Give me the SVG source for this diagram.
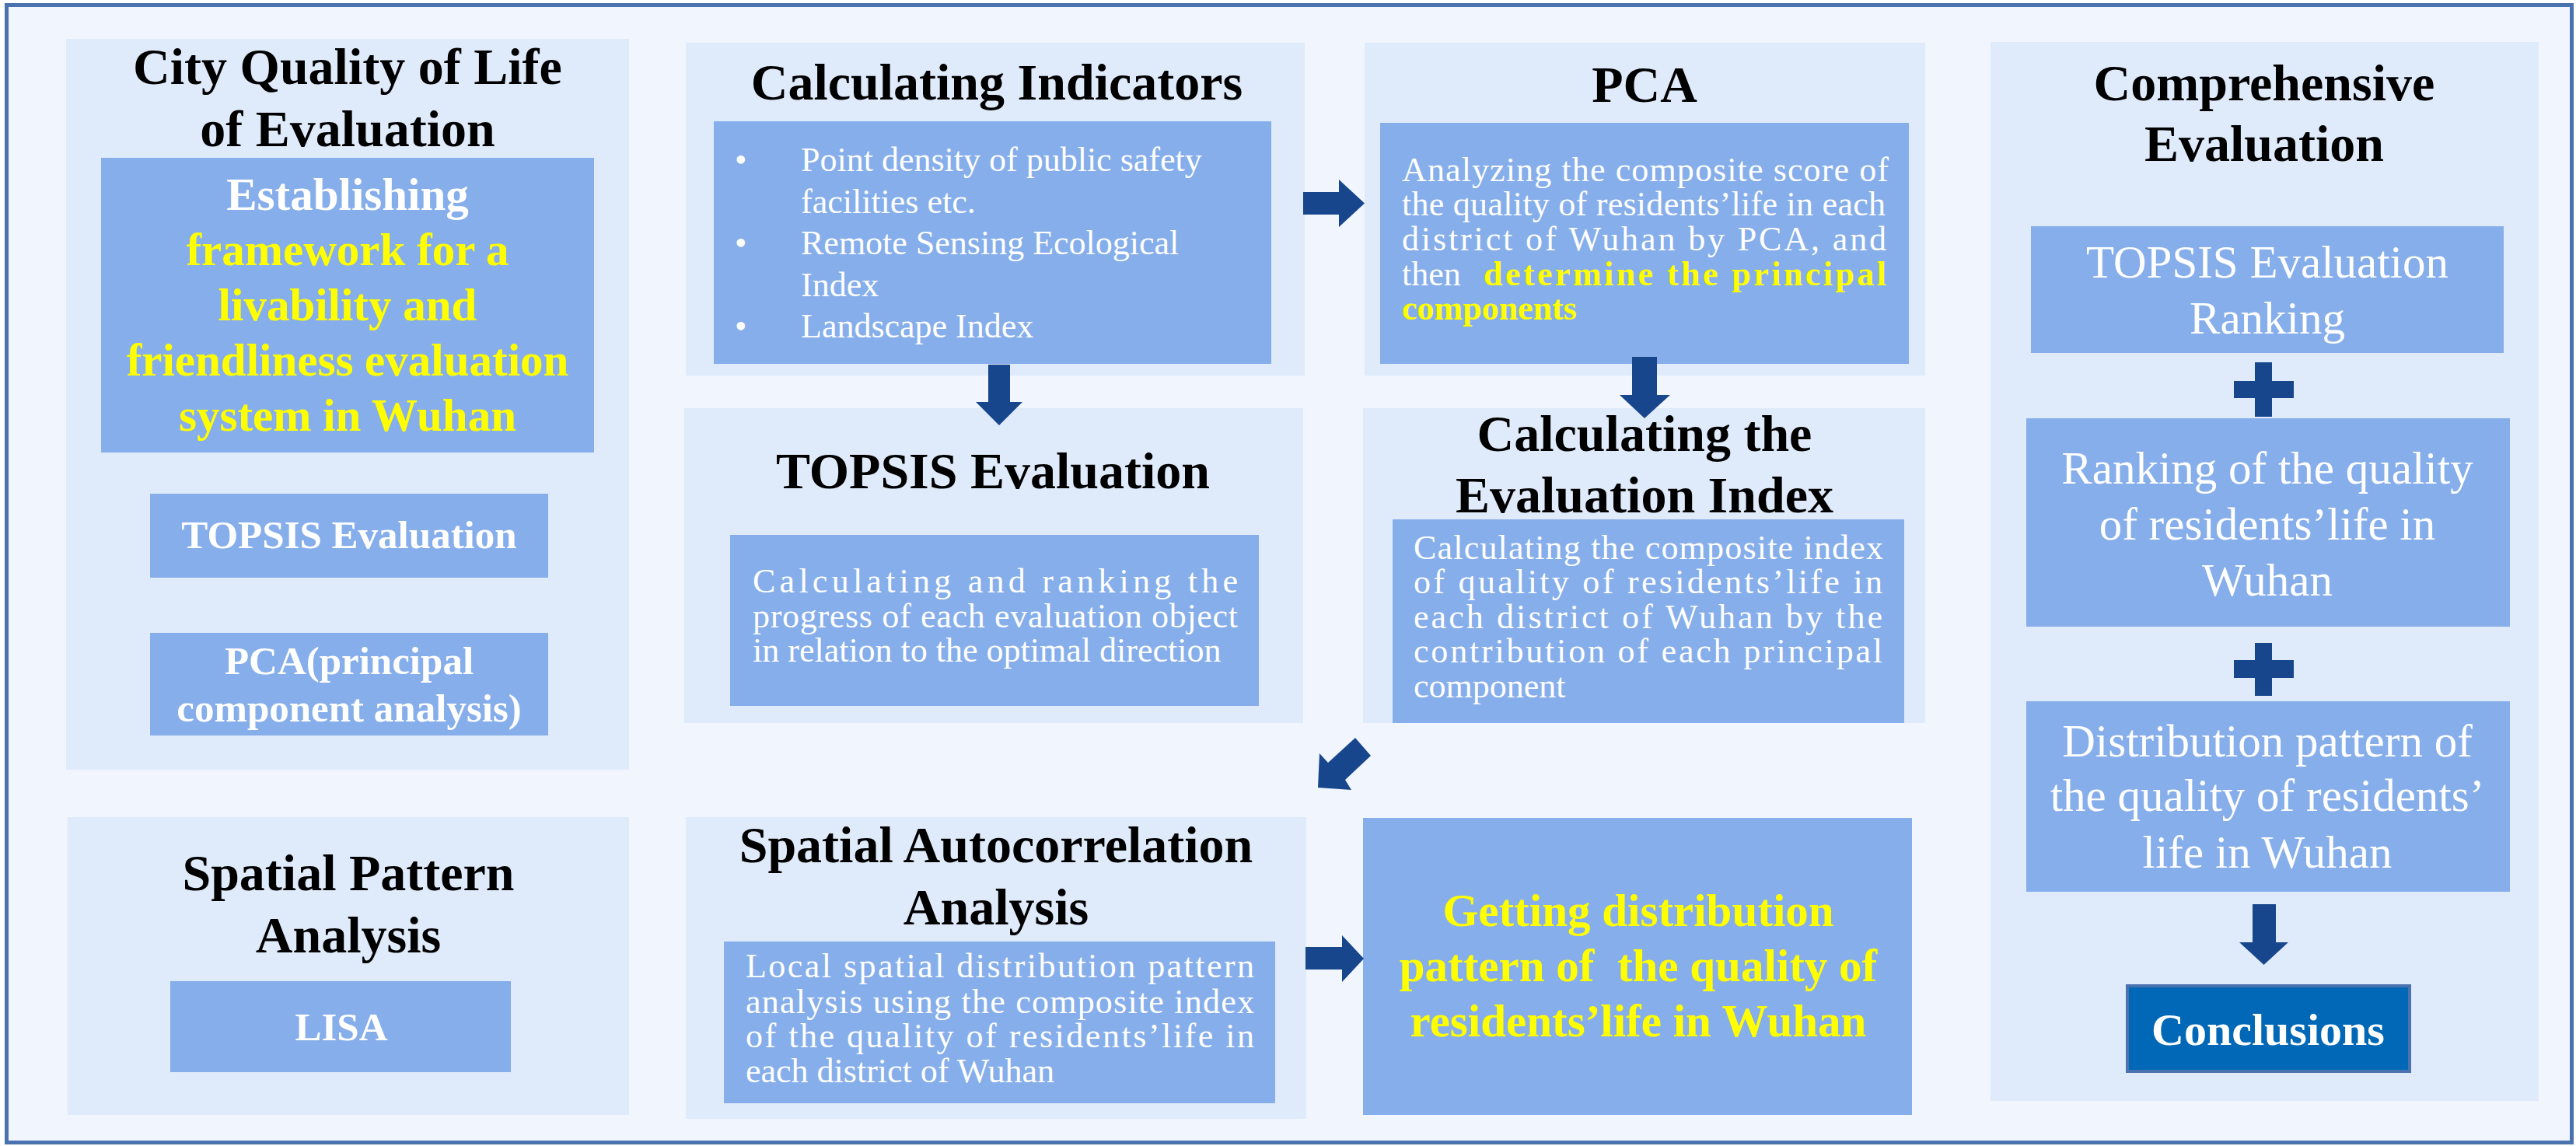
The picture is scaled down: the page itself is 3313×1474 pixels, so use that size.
<svg xmlns="http://www.w3.org/2000/svg" width="3313" height="1474" viewBox="0 0 3313 1474">
<style>
text{font-family:"Liberation Serif","Times New Roman",serif;}
.panel{fill:#dfeafa;}
.box{fill:#86aeea;}
.h{font-size:66px;font-weight:bold;fill:#000;text-anchor:middle;}
.bw{font-weight:bold;fill:#fff;text-anchor:middle;}
.t{font-size:44px;fill:#fff;}
.by{font-weight:bold;fill:#ffff00;}
.r{font-size:59px;fill:#fff;text-anchor:middle;}
.arr{fill:#17468d;}
</style>
<rect x="8.5" y="6.5" width="3299" height="1463" fill="#f0f5fe" stroke="#4a72ae" stroke-width="5"/>

<g id="city-quality">
<rect class="panel" x="85" y="50" width="724" height="940"/>
<text class="h" x="447" y="108">City Quality of Life</text>
<text class="h" x="447" y="188">of Evaluation</text>
<rect class="box" x="130" y="203" width="634" height="379"/>
<text class="bw" x="447" y="270" font-size="59">Establishing</text>
<text class="by" x="447" y="341" font-size="59" text-anchor="middle">framework for a</text>
<text class="by" x="447" y="412" font-size="59" text-anchor="middle">livability and</text>
<text class="by" x="447" y="483" font-size="59" text-anchor="middle">friendliness evaluation</text>
<text class="by" x="447" y="554" font-size="59" text-anchor="middle">system in Wuhan</text>
<rect class="box" x="193" y="635" width="512" height="108"/>
<text class="bw" x="449" y="705" font-size="51">TOPSIS Evaluation</text>
<rect class="box" x="193" y="814" width="512" height="132"/>
<text class="bw" x="449" y="867" font-size="51">PCA(principal</text>
<text class="bw" x="449" y="928" font-size="51">component analysis)</text>
</g>

<g id="spatial-pattern">
<rect class="panel" x="87" y="1051" width="722" height="383"/>
<text class="h" x="448" y="1145">Spatial Pattern</text>
<text class="h" x="448" y="1225">Analysis</text>
<rect class="box" x="219" y="1262" width="438" height="117"/>
<text class="bw" x="439" y="1338" font-size="51">LISA</text>
</g>

<g id="calculating-indicators">
<rect class="panel" x="882" y="55" width="796" height="428"/>
<text class="h" x="1282" y="128">Calculating Indicators</text>
<rect class="box" x="918" y="156" width="717" height="312"/>
<text class="t" x="945" y="220">•</text>
<text class="t" x="1030" y="220">Point density of public safety</text>
<text class="t" x="1030" y="274">facilities etc.</text>
<text class="t" x="945" y="327">•</text>
<text class="t" x="1030" y="327">Remote Sensing Ecological</text>
<text class="t" x="1030" y="381">Index</text>
<text class="t" x="945" y="434">•</text>
<text class="t" x="1030" y="434">Landscape Index</text>
</g>

<g id="topsis-evaluation">
<rect class="panel" x="880" y="525" width="796" height="405"/>
<text class="h" x="1277" y="628">TOPSIS Evaluation</text>
<rect class="box" x="939" y="688" width="680" height="220"/>
<text class="t" x="968" y="762" textLength="624" lengthAdjust="spacing">Calculating and ranking the</text>
<text class="t" x="968" y="807" textLength="624" lengthAdjust="spacing">progress of each evaluation object</text>
<text class="t" x="968" y="851">in relation to the optimal direction</text>
</g>

<g id="pca">
<rect class="panel" x="1755" y="55" width="721" height="428"/>
<text class="h" x="2115" y="131">PCA</text>
<rect class="box" x="1775" y="158" width="680" height="310"/>
<text class="t" x="1803" y="233" textLength="626" lengthAdjust="spacing">Analyzing the composite score of</text>
<text class="t" x="1803" y="277" textLength="622" lengthAdjust="spacing">the quality of residents’life in each</text>
<text class="t" x="1803" y="322" textLength="623" lengthAdjust="spacing">district of Wuhan by PCA, and</text>
<text class="t" x="1803" y="367">then</text>
<text class="t by" x="1908" y="367" textLength="518" lengthAdjust="spacing">determine the principal</text>
<text class="t by" x="1803" y="411">components</text>
</g>

<g id="calculating-evaluation-index">
<rect class="panel" x="1753" y="525" width="723" height="405"/>
<text class="h" x="2115" y="580">Calculating the</text>
<text class="h" x="2115" y="659">Evaluation Index</text>
<rect class="box" x="1791" y="668" width="658" height="262"/>
<text class="t" x="1818" y="719" textLength="604" lengthAdjust="spacing">Calculating the composite index</text>
<text class="t" x="1818" y="763" textLength="603" lengthAdjust="spacing">of quality of residents’life in</text>
<text class="t" x="1818" y="808" textLength="603" lengthAdjust="spacing">each district of Wuhan by the</text>
<text class="t" x="1818" y="852" textLength="603" lengthAdjust="spacing">contribution of each principal</text>
<text class="t" x="1818" y="897">component</text>
</g>

<g id="spatial-autocorrelation">
<rect class="panel" x="882" y="1051" width="798" height="388"/>
<text class="h" x="1281" y="1109">Spatial Autocorrelation</text>
<text class="h" x="1281" y="1189">Analysis</text>
<rect class="box" x="931" y="1211" width="709" height="208"/>
<text class="t" x="959" y="1257" textLength="654" lengthAdjust="spacing">Local spatial distribution pattern</text>
<text class="t" x="959" y="1303" textLength="654" lengthAdjust="spacing">analysis using the composite index</text>
<text class="t" x="959" y="1347" textLength="654" lengthAdjust="spacing">of the quality of residents’life in</text>
<text class="t" x="959" y="1392">each district of Wuhan</text>
</g>

<g id="distribution-pattern">
<rect class="box" x="1753" y="1052" width="706" height="382"/>
<text class="by" x="2107" y="1191" font-size="59" text-anchor="middle">Getting distribution</text>
<text class="by" x="2107" y="1262" font-size="59" text-anchor="middle" xml:space="preserve">pattern of  the quality of</text>
<text class="by" x="2107" y="1333" font-size="59" text-anchor="middle">residents’life in Wuhan</text>
</g>

<g id="comprehensive-evaluation">
<rect class="panel" x="2560" y="54" width="705" height="1362"/>
<text class="h" x="2912" y="129">Comprehensive</text>
<text class="h" x="2912" y="207">Evaluation</text>
<rect class="box" x="2612" y="291" width="608" height="163"/>
<text class="r" x="2916" y="357">TOPSIS Evaluation</text>
<text class="r" x="2916" y="429">Ranking</text>
<path class="arr" d="M2900 466H2922V490H2950V512H2922V536H2900V512H2873V490H2900Z"/>
<rect class="box" x="2606" y="538" width="622" height="268"/>
<text class="r" x="2916" y="622">Ranking of the quality</text>
<text class="r" x="2916" y="694">of residents’life in</text>
<text class="r" x="2916" y="766">Wuhan</text>
<path class="arr" d="M2900 827H2922V849H2950V872H2922V895H2900V872H2873V849H2900Z"/>
<rect class="box" x="2606" y="902" width="622" height="245"/>
<text class="r" x="2916" y="973">Distribution pattern of</text>
<text class="r" x="2916" y="1043">the quality of residents’</text>
<text class="r" x="2916" y="1116">life in Wuhan</text>
</g>

<g id="conclusions">
<rect x="2736" y="1268" width="363" height="110" fill="#0068b6" stroke="#4a72ae" stroke-width="4"/>
<text class="bw" x="2917" y="1344" font-size="58">Conclusions</text>
</g>

<g id="connectors">
<path class="arr" d="M1271 469H1299V517H1315L1285 547L1255 517H1271Z"/>
<path class="arr" d="M1676 247H1722V231L1755 261.5L1722 292V276H1676Z"/>
<path class="arr" d="M2099 459H2131V508H2148L2115 538L2083 508H2099Z"/>
<path class="arr" d="M1743 949L1763 972L1730 1003L1738 1016L1695 1013L1697 969L1708 981Z"/>
<path class="arr" d="M1679 1218H1726V1203L1754 1233L1726 1263V1247H1679Z"/>
<path class="arr" d="M2897 1163H2927V1212H2943L2911.5 1241L2880 1212H2897Z"/>
</g>
</svg>
